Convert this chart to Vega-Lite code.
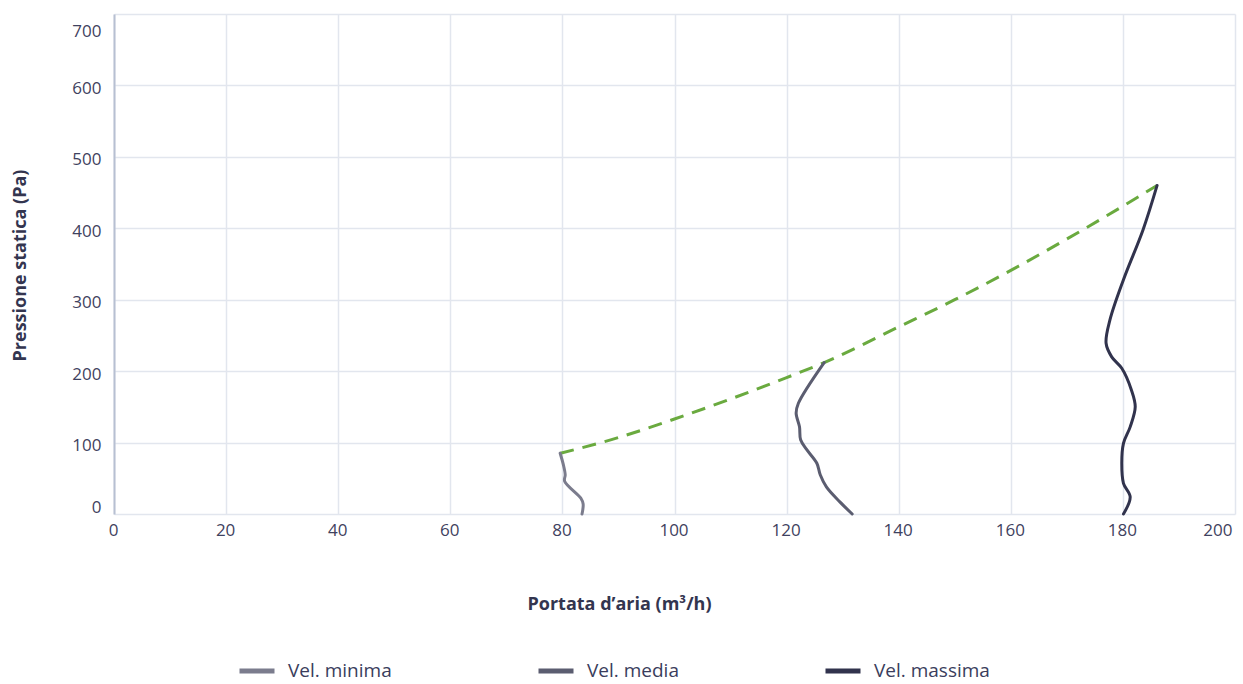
{
  "$schema": "https://vega.github.io/schema/vega-lite/v6.json",
  "width": 1121,
  "height": 500,
  "autosize": {"type": "none"},
  "padding": {"left": 114, "top": 14, "right": 8, "bottom": 170},
  "background": "#ffffff",
  "config": {
    "font": "Open Sans",
    "view": {"stroke": null},
    "axis": {
      "labelFont": "Open Sans",
      "labelFontSize": 17,
      "labelColor": "#3f4260",
      "titleFont": "Open Sans",
      "titleFontSize": 18,
      "titleFontWeight": "bold",
      "titleColor": "#33354f",
      "gridColor": "#e2e6ee",
      "gridWidth": 1.5,
      "ticks": false
    }
  },
  "datasets": {
    "curves": [
      {"serie": "Vel. minima", "q": 83.5, "p": 0, "i": 0},
      {"serie": "Vel. minima", "q": 83.7, "p": 14, "i": 1},
      {"serie": "Vel. minima", "q": 83.3, "p": 22, "i": 2},
      {"serie": "Vel. minima", "q": 80.4, "p": 46, "i": 3},
      {"serie": "Vel. minima", "q": 80.5, "p": 55, "i": 4},
      {"serie": "Vel. minima", "q": 80.2, "p": 68, "i": 5},
      {"serie": "Vel. minima", "q": 79.6, "p": 85, "i": 6},
      {"serie": "Vel. media", "q": 131.7, "p": 0, "i": 0},
      {"serie": "Vel. media", "q": 129.5, "p": 17, "i": 1},
      {"serie": "Vel. media", "q": 127.1, "p": 38, "i": 2},
      {"serie": "Vel. media", "q": 126.0, "p": 55, "i": 3},
      {"serie": "Vel. media", "q": 125.4, "p": 71, "i": 4},
      {"serie": "Vel. media", "q": 123.6, "p": 90, "i": 5},
      {"serie": "Vel. media", "q": 122.5, "p": 104, "i": 6},
      {"serie": "Vel. media", "q": 122.3, "p": 122, "i": 7},
      {"serie": "Vel. media", "q": 121.7, "p": 141, "i": 8},
      {"serie": "Vel. media", "q": 122.1, "p": 155, "i": 9},
      {"serie": "Vel. media", "q": 126.7, "p": 212, "i": 10},
      {"serie": "Vel. massima", "q": 180.1, "p": 0, "i": 0},
      {"serie": "Vel. massima", "q": 181.3, "p": 24, "i": 1},
      {"serie": "Vel. massima", "q": 180.1, "p": 43, "i": 2},
      {"serie": "Vel. massima", "q": 179.8, "p": 71, "i": 3},
      {"serie": "Vel. massima", "q": 180.1, "p": 99, "i": 4},
      {"serie": "Vel. massima", "q": 181.3, "p": 122, "i": 5},
      {"serie": "Vel. massima", "q": 182.2, "p": 150, "i": 6},
      {"serie": "Vel. massima", "q": 181.5, "p": 174, "i": 7},
      {"serie": "Vel. massima", "q": 179.8, "p": 204, "i": 8},
      {"serie": "Vel. massima", "q": 178.0, "p": 220, "i": 9},
      {"serie": "Vel. massima", "q": 177.0, "p": 239, "i": 10},
      {"serie": "Vel. massima", "q": 177.7, "p": 272, "i": 11},
      {"serie": "Vel. massima", "q": 180.1, "p": 328, "i": 12},
      {"serie": "Vel. massima", "q": 183.6, "p": 398, "i": 13},
      {"serie": "Vel. massima", "q": 186.1, "p": 460, "i": 14}
    ],
    "impianto": [
      {"q": 79.6, "p": 85},
      {"q": 90, "p": 107},
      {"q": 100, "p": 133},
      {"q": 110, "p": 161},
      {"q": 120, "p": 191},
      {"q": 126.7, "p": 212},
      {"q": 140, "p": 262},
      {"q": 150, "p": 300},
      {"q": 160, "p": 341},
      {"q": 170, "p": 385},
      {"q": 180, "p": 431},
      {"q": 186.1, "p": 460}
    ]
  },
  "layer": [
    {
      "data": {"name": "impianto"},
      "mark": {"type": "line", "color": "#6aaa3f", "strokeWidth": 3, "strokeDash": [14, 9], "interpolate": "monotone"},
      "encoding": {
        "x": {
          "field": "q", "type": "quantitative",
          "scale": {"domain": [0, 200], "nice": false, "zero": true},
          "axis": {
            "title": "Portata d’aria (m³/h)",
            "values": [0, 20, 40, 60, 80, 100, 120, 140, 160, 180, 200],
            "domain": false,
            "labelPadding": 8,
            "labelFlush": false,
            "labelAlign": {"expr": "datum.value == 200 ? 'right' : 'center'"},
            "labelOffset": {"expr": "datum.value == 200 ? -3 : -1"},
            "titleX": 505,
            "titleY": 90,
            "titleBaseline": "middle",
            "titleAnchor": "middle"
          }
        },
        "y": {
          "field": "p", "type": "quantitative",
          "scale": {"domain": [0, 700], "nice": false},
          "axis": {
            "title": "Pressione statica (Pa)",
            "values": [0, 100, 200, 300, 400, 500, 600, 700],
            "domain": true,
            "domainColor": "#b7c0d2",
            "domainWidth": 2,
            "labelPadding": 13,
            "labelFlush": false,
            "labelBaseline": {"expr": "datum.value == 0 ? 'bottom' : datum.value == 700 ? 'top' : 'middle'"},
            "labelOffset": {"expr": "datum.value == 0 ? 2 : datum.value == 700 ? 9 : 3"},
            "titleX": -94,
            "titleY": 251,
            "titleAngle": -90,
            "titleBaseline": "middle",
            "titleAnchor": "middle"
          }
        }
      }
    },
    {
      "data": {"name": "curves"},
      "mark": {"type": "line", "strokeWidth": 3, "interpolate": "catmull-rom", "strokeCap": "round"},
      "encoding": {
        "x": {"field": "q", "type": "quantitative"},
        "y": {"field": "p", "type": "quantitative"},
        "order": {"field": "i", "type": "quantitative"},
        "color": {
          "field": "serie", "type": "nominal",
          "scale": {"domain": ["Vel. minima", "Vel. media", "Vel. massima"], "range": ["#7b7c8d", "#5b5d70", "#31334d"]},
          "legend": {
            "title": null,
            "orient": "none",
            "direction": "horizontal",
            "legendX": 123,
            "legendY": 637,
            "symbolType": "stroke",
            "symbolSize": 1225,
            "symbolStrokeWidth": 5,
            "labelFont": "Open Sans",
            "labelFontSize": 19,
            "labelColor": "#3a3d5c",
            "labelOffset": 11,
            "columnPadding": 136,
            "labelLimit": 300
          }
        }
      }
    }
  ]
}
